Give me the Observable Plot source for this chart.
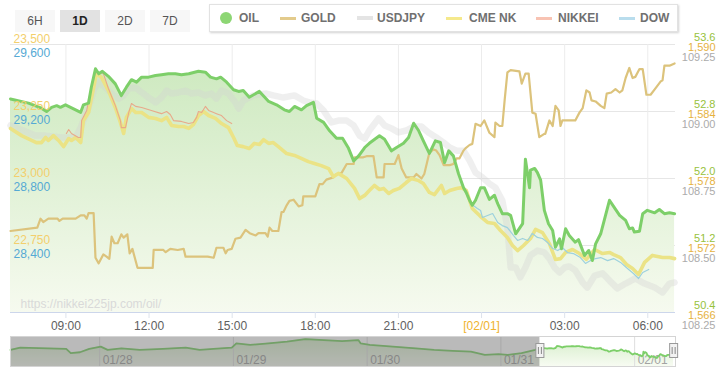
<!DOCTYPE html>
<html><head><meta charset="utf-8">
<script src="https://cdn.jsdelivr.net/npm/d3@7"></script>
<script src="https://cdn.jsdelivr.net/npm/@observablehq/plot@0.6"></script>
<style>
body{margin:0;background:#fff;font-family:"Liberation Sans",Arial,sans-serif;}
#wrap{position:relative;width:726px;height:380px;overflow:hidden;background:#fff}
.btn{position:absolute;top:10px;width:40px;height:22px;line-height:22px;text-align:center;font-size:12px;color:#555;background:#f7f7f7}
.btn.on{background:#e2e2e2;color:#222;font-weight:bold}
#legend{position:absolute;left:209px;top:4px;width:467px;height:26px;border:1px solid #e2e2e2;background:#fff;box-shadow:1px 1px 2px rgba(0,0,0,0.18)}
.li{position:absolute;top:0;height:26px;line-height:26px;font-size:12px;font-weight:bold;color:#707070;white-space:nowrap}
.mk{position:absolute}
</style></head>
<body>
<div id="wrap">
  <div id="chart" style="position:absolute;left:0;top:0"></div>
  <div id="nav" style="position:absolute;left:0;top:334px"></div>
  <div id="header"></div>
</div>
<script>
// ---------- data ----------
const rangeButtons = ["6H", "1D", "2D", "7D"];
const activeRange = "1D";
const seriesNames = ["OIL", "GOLD", "USDJPY", "CME NK", "NIKKEI", "DOW"];
const watermark = "https://nikkei225jp.com/oil/";

// axis tick labels (value at each horizontal gridline, bottom to top)
const oilTicks = [50.4, 51.2, 52.0, 52.8, 53.6];
const goldTicks = [1566, 1572, 1578, 1584, 1590];
const jpyTicks = [108.25, 108.50, 108.75, 109.00, 109.25];
const nkTicks = [22500, 22750, 23000, 23250, 23500];
const dowTicks = [28000, 28400, 28800, 29200, 29600];
const timeTicks = ["09:00", "12:00", "15:00", "18:00", "21:00", "00:00", "03:00", "06:00"];
const dateTickLabel = "[02/01]";

// 1D series: [time (Jan 31 07:00 -> Feb 1 07:00), value]
const oil = [["07:00",52.95],["07:39",52.90],["08:07",52.84],["08:18",52.80],["08:29",52.85],["08:40",52.87],["08:48",52.85],["08:59",52.88],["09:10",52.85],["09:32",52.79],["09:38",52.88],["09:49",52.90],["09:55",53.09],["10:04",53.31],["10:11",53.25],["10:19",53.28],["10:32",53.22],["10:47",53.13],["11:00",52.99],["11:11",53.09],["11:22",53.18],["11:33",53.15],["11:44",53.21],["11:59",53.21],["12:14",53.23],["12:27",53.24],["12:42",53.25],["12:57",53.25],["13:10",53.24],["13:26",53.25],["13:47",53.28],["14:02",53.27],["14:13",53.21],["14:26",53.19],["14:35",53.21],["14:48",53.15],["15:03",53.06],["15:14",53.04],["15:24",53.05],["15:37",52.97],["15:59",53.04],["16:19",52.92],["16:36",52.88],["16:53",52.82],["17:04",52.80],["17:15",52.86],["17:30",52.82],["17:41",52.87],["17:56",52.91],["18:03",52.72],["18:18",52.67],["18:31",52.57],["18:46",52.48],["18:59",52.48],["19:12",52.36],["19:23",52.21],["19:34",52.27],["19:47",52.37],["19:57",52.42],["20:19",52.51],["20:30",52.47],["20:45",52.33],["20:56",52.37],["21:11",52.42],["21:22",52.49],["21:33",52.66],["21:44",52.57],["21:54",52.45],["22:07",52.30],["22:20",52.45],["22:31",52.43],["22:40",52.19],["22:49",52.33],["22:59",52.27],["23:10",52.06],["23:21",51.89],["23:27",51.83],["23:34",51.74],["23:40",51.68],["23:47",51.74],["23:58",51.89],["00:06",51.89],["00:17",51.75],["00:28",51.80],["00:35",51.70],["00:45",51.58],["00:56",51.58],["01:03",51.56],["01:14",51.34],["01:29",51.46],["01:35",52.23],["01:44",51.89],["01:46",52.10],["01:55",52.12],["02:01",52.07],["02:08",51.98],["02:16",51.62],["02:25",51.46],["02:34",51.38],["02:40",51.18],["02:49",51.28],["02:53",51.16],["03:02",51.40],["03:10",51.32],["03:23",51.24],["03:30",51.27],["03:43",51.08],["03:52",51.14],["04:00",51.02],["04:07",51.22],["04:18",51.34],["04:37",51.74],["04:48",51.65],["04:59",51.56],["05:12",51.50],["05:20",51.40],["05:27",51.41],["05:31",51.36],["05:42",51.37],["05:49",51.58],["05:59",51.62],["06:15",51.59],["06:25",51.63],["06:36",51.58],["06:47",51.59],["06:58",51.58]];

const gold = [["07:00",1573.3],["07:58",1573.6],["08:05",1574.4],["08:11",1574.1],["08:22",1574.4],["08:42",1574.4],["08:46",1574.2],["08:53",1574.4],["09:21",1574.4],["09:32",1574.7],["09:40",1574.7],["09:45",1574.4],["09:49",1574.9],["10:00",1574.9],["10:04",1570.9],["10:11",1570.4],["10:21",1571.2],["10:28",1571.0],["10:34",1570.8],["10:39",1572.8],["10:45",1572.2],["10:52",1572.2],["11:00",1573.0],["11:05",1572.7],["11:13",1573.0],["11:18",1571.3],["11:24",1571.7],["11:35",1570.0],["12:08",1570.0],["12:10",1571.6],["12:31",1571.6],["12:36",1571.4],["12:46",1571.7],["13:02",1571.6],["13:15",1571.7],["13:19",1571.0],["14:07",1571.0],["14:20",1570.9],["14:26",1571.8],["14:41",1571.8],["14:46",1571.3],["14:50",1571.6],["14:59",1571.7],["15:07",1572.6],["15:18",1572.7],["15:29",1573.4],["15:38",1573.1],["15:51",1572.9],["15:57",1573.1],["16:12",1573.1],["16:17",1572.8],["16:21",1573.6],["16:27",1573.3],["16:40",1573.3],["16:47",1575.0],["16:51",1575.0],["16:58",1575.6],["17:04",1576.0],["17:13",1576.1],["17:24",1575.5],["17:32",1575.6],["17:34",1576.4],["18:00",1576.4],["18:09",1577.5],["18:16",1577.5],["18:24",1577.9],["18:39",1578.1],["18:46",1578.4],["18:57",1578.5],["19:08",1579.3],["19:23",1579.3],["19:25",1579.9],["19:44",1579.9],["19:51",1580.0],["20:06",1580.0],["20:13",1578.1],["20:28",1578.1],["20:30",1579.3],["20:52",1579.3],["21:00",1580.1],["21:07",1578.9],["21:17",1578.1],["21:33",1578.1],["21:39",1578.4],["21:50",1578.0],["21:56",1578.4],["22:07",1580.3],["22:16",1580.6],["22:22",1580.5],["22:29",1580.1],["22:38",1579.2],["22:51",1579.2],["22:59",1579.3],["23:06",1579.8],["23:12",1579.8],["23:21",1580.5],["23:25",1580.7],["23:34",1581.0],["23:40",1581.1],["23:47",1582.9],["23:58",1582.7],["00:06",1583.2],["00:17",1582.1],["00:28",1581.7],["00:30",1583.0],["00:39",1582.7],["00:45",1582.7],["00:50",1585.0],["00:56",1587.5],["01:03",1587.7],["01:22",1587.6],["01:27",1586.5],["01:35",1587.4],["01:42",1587.4],["01:50",1583.9],["01:57",1583.8],["02:05",1581.7],["02:16",1582.0],["02:18",1582.0],["02:27",1583.2],["02:34",1582.7],["02:40",1584.5],["02:47",1584.1],["02:51",1582.7],["02:55",1583.2],["03:23",1583.2],["03:32",1583.9],["03:39",1584.3],["03:47",1585.9],["03:54",1585.7],["03:58",1585.0],["04:07",1584.9],["04:18",1584.5],["04:26",1584.3],["04:31",1585.6],["04:41",1585.7],["04:50",1586.0],["04:59",1585.7],["05:05",1585.9],["05:12",1587.0],["05:20",1587.9],["05:27",1587.0],["05:33",1587.1],["05:42",1587.8],["05:49",1587.8],["05:57",1585.5],["06:06",1585.5],["06:17",1586.1],["06:28",1586.7],["06:32",1586.8],["06:36",1588.1],["06:47",1588.1],["06:58",1588.3]];

const usdjpy = [["07:00",108.948],["07:54",108.910],["08:16",108.910],["08:50",108.903],["09:21",108.903],["09:32",108.940],["09:49",109.015],["10:02",109.089],["10:11",109.108],["10:26",109.089],["10:39",109.067],["10:54",109.048],["11:05",109.060],["11:16",109.086],["11:31",109.089],["11:44",109.071],["11:59",109.052],["12:14",109.034],["12:27",109.052],["12:38",109.078],["12:49",109.067],["13:04",109.071],["13:19",109.078],["13:32",109.067],["13:47",109.071],["14:02",109.060],["14:15",109.067],["14:26",109.048],["14:37",109.078],["14:52",109.067],["15:07",109.034],["15:14",109.011],["15:24",109.041],["15:46",109.060],["16:14",109.067],["16:29",109.060],["16:51",109.052],["17:15",109.060],["17:34",109.041],["17:47",109.034],["18:03",109.030],["18:18",109.004],["18:35",108.959],["18:50",108.966],["19:08",108.966],["19:23",108.948],["19:36",108.910],["19:47",108.899],["19:57",108.929],["20:17",108.974],["20:30",108.948],["20:45",108.937],["21:00",108.922],["21:17",108.929],["21:33",108.944],["21:50",108.944],["22:05",108.922],["22:22",108.903],["22:38",108.884],["22:51",108.866],["23:06",108.854],["23:21",108.854],["23:34",108.817],["23:47",108.772],["00:02",108.754],["00:17",108.731],["00:30",108.716],["00:45",108.668],["00:56",108.567],["01:03",108.418],["01:14",108.418],["01:24",108.381],["01:35",108.418],["01:46",108.463],["02:01",108.481],["02:16",108.474],["02:27",108.451],["02:38",108.418],["02:49",108.399],["03:00",108.418],["03:10",108.422],["03:23",108.407],["03:39",108.362],["03:49",108.343],["04:05",108.388],["04:22",108.396],["04:37",108.369],["04:54",108.340],["05:12",108.358],["05:33",108.377],["05:53",108.358],["06:15",108.343],["06:32",108.325],["06:47",108.358],["06:58",108.362]];

const cmeNk = [["07:00",23187],["07:24",23160],["07:56",23134],["08:07",23134],["08:16",23153],["08:22",23142],["08:33",23160],["08:44",23142],["08:55",23119],["09:06",23149],["09:12",23142],["09:21",23153],["09:32",23134],["09:38",23216],["09:49",23246],["10:00",23339],["10:06",23392],["10:17",23377],["10:32",23328],["10:47",23265],["10:58",23209],["11:05",23168],["11:11",23228],["11:22",23261],["11:31",23246],["11:44",23246],["11:59",23228],["12:14",23224],["12:27",23216],["12:38",23228],["12:49",23198],["13:04",23194],["13:15",23194],["13:26",23187],["13:36",23201],["13:47",23235],["13:58",23250],["14:09",23235],["14:24",23224],["14:37",23205],["14:52",23190],["15:03",23153],["15:11",23123],["15:24",23119],["15:37",23112],["15:48",23131],["15:59",23127],["16:08",23145],["16:19",23131],["16:29",23134],["16:40",23119],["16:58",23093],["17:15",23086],["17:26",23078],["17:45",23063],["17:58",23056],["18:13",23048],["18:29",23037],["18:39",23007],["18:50",23019],["19:08",23000],["19:25",22963],["19:36",22925],["19:47",22937],["19:57",22955],["20:08",22974],["20:19",22959],["20:28",22963],["20:39",22944],["20:49",22955],["21:02",22963],["21:17",22985],["21:28",23000],["21:44",22992],["21:54",22981],["22:07",22948],["22:18",22940],["22:33",22974],["22:40",22944],["22:51",22955],["23:06",22963],["23:17",22966],["23:27",22955],["23:40",22888],["23:58",22858],["00:13",22836],["00:28",22832],["00:41",22806],["00:56",22780],["01:07",22750],["01:18",22731],["01:31",22750],["01:46",22776],["01:57",22810],["02:12",22798],["02:27",22757],["02:40",22698],["02:51",22701],["03:02",22724],["03:17",22735],["03:32",22720],["03:47",22698],["04:05",22735],["04:22",22720],["04:37",22724],["04:46",22716],["05:01",22705],["05:14",22679],["05:27",22664],["05:40",22642],["05:53",22687],["06:10",22713],["06:32",22705],["06:47",22705],["06:58",22701]];

const nikkei = [["09:01",23168],["09:06",23183],["09:12",23168],["09:27",23153],["09:32",23153],["09:34",23216],["09:45",23254],["09:55",23339],["10:04",23395],["10:15",23395],["10:21",23392],["10:32",23336],["10:47",23272],["10:58",23216],["11:00",23190],["11:09",23190],["11:16",23246],["11:22",23280],["11:31",23269],["11:44",23265],["12:05",23254],["12:27",23242],["12:38",23250],["12:46",23239],["12:53",23216],["13:10",23213],["13:26",23205],["13:36",23209],["13:43",23228],["13:47",23250],["13:54",23246],["14:02",23269],["14:09",23254],["14:20",23246],["14:26",23242],["14:37",23235],["14:48",23216],["14:59",23205]];

const dow = [["23:36",28651],["23:51",28621],["23:58",28609],["00:02",28567],["00:13",28579],["00:24",28591],["00:35",28537],["00:45",28519],["00:56",28507],["01:09",28460],["01:18",28430],["01:29",28442],["01:40",28430],["01:50",28472],["02:01",28448],["02:12",28442],["02:23",28418],["02:34",28382],["02:45",28370],["02:55",28388],["03:06",28358],["03:19",28352],["03:34",28328],["03:45",28293],["03:56",28310],["04:07",28322],["04:18",28328],["04:33",28310],["04:46",28322],["05:01",28299],["05:16",28263],["05:29",28233],["05:40",28203],["05:49",28239],["06:02",28257]];

// navigator: OIL over the preceding days ("MM-DD HH:MM", value), followed by the 1D series
const oilHistory = [["01-27 08:00",52.55],["01-27 09:45",52.99],["01-27 14:43",52.86],["01-27 18:00",52.74],["01-27 18:49",51.93],["01-27 20:28",52.11],["01-27 22:08",52.74],["01-28 00:12",53.18],["01-28 01:26",52.55],["01-28 03:55",52.86],["01-28 07:12",52.55],["01-28 11:20",52.74],["01-28 15:27",52.99],["01-28 17:57",52.55],["01-28 20:25",52.74],["01-28 23:43",52.99],["01-29 00:32",53.80],["01-29 03:00",53.49],["01-29 06:19",53.80],["01-29 09:37",54.11],["01-29 12:55",54.61],["01-29 16:13",54.43],["01-29 19:31",54.24],["01-29 22:25",54.43],["01-29 22:49",53.80],["01-30 00:29",53.49],["01-30 04:36",53.18],["01-30 08:43",52.86],["01-30 12:01",52.55],["01-30 15:20",52.36],["01-30 18:37",52.24],["01-30 21:07",51.61],["01-30 23:36",51.74],["01-31 01:13",51.61],["01-31 03:42",51.93],["01-31 06:11",52.55]];
const navDays = ["01-28","01-29","01-30","01-31","02-01"];

// ---------- helpers ----------
const mainDay = s => { const [h, m] = s.split(":").map(Number); return new Date(Date.UTC(2020, 0, h >= 7 ? 31 : 32, h, m)); };
const md = s => { const [d, t] = s.split(" "); const [mo, da] = d.split("-").map(Number); const [h, m] = (t || "00:00").split(":").map(Number); return new Date(Date.UTC(2020, mo - 1, da, h, m)); };
const unit = ticks => v => (v - ticks[0]) / (ticks[1] - ticks[0]);
const rows = (arr, ticks) => { const f = unit(ticks); return arr.map(([s, v]) => ({t: mainDay(s), u: f(v)})); };

const xStart = new Date(Date.UTC(2020, 0, 31, 7, 0));
const xEnd = new Date(Date.UTC(2020, 1, 1, 7, 0));
const tickDates = timeTicks.map(mainDay);
const midnight = tickDates.filter(d => d.getUTCHours() === 0);
const hourTicks = tickDates.filter(d => d.getUTCHours() !== 0);

const oilRows = rows(oil, oilTicks), goldRows = rows(gold, goldTicks), jpyRows = rows(usdjpy, jpyTicks);
const nkRows = rows(cmeNk, nkTicks), nikRows = rows(nikkei, nkTicks), dowRows = rows(dow, dowTicks);

const fmt1 = d3.format(".1f"), fmt2 = d3.format(".2f"), fmtC = d3.format(",");
const FONT = "'Liberation Sans', Arial, sans-serif";

const C = {oil: "#7dcf69", gold: "#dcc37c", jpy: "#d2d2d2", nk: "#ebe386", nikkei: "#e8a98a", dow: "#9dd1dd"};

// ---------- main chart ----------
const main = Plot.plot({
  width: 726, height: 340,
  marginTop: 44, marginBottom: 28, marginLeft: 10, marginRight: 51,
  x: {type: "utc", domain: [xStart, xEnd], axis: null},
  y: {domain: [0, 4], axis: null},
  style: {fontFamily: FONT, fontSize: "12px", background: "transparent", overflow: "visible"},
  marks: [
    Plot.gridY([1, 2, 3, 4], {stroke: "#e6e6e6", strokeOpacity: 1}),
    Plot.gridX(tickDates, {stroke: "#ececec", strokeOpacity: 1}),
    Plot.areaY(oilRows, {x: "t", y1: 0, y2: "u", fill: "url(#oilGrad)"}),
    Plot.text([watermark], {frameAnchor: "bottom-left", text: d => d, dx: 10, dy: -5, textAnchor: "start", lineAnchor: "bottom", fill: "#d9d9d9", fontSize: 12}),
    Plot.line(jpyRows, {x: "t", y: "u", stroke: C.jpy, strokeWidth: 6.5, strokeOpacity: 0.36, strokeLinejoin: "round"}),
    Plot.line(goldRows, {x: "t", y: "u", stroke: C.gold, strokeWidth: 2.2, strokeLinejoin: "round"}),
    Plot.line(nkRows, {x: "t", y: "u", stroke: C.nk, strokeWidth: 3.6, strokeLinejoin: "round"}),
    Plot.line(nikRows, {x: "t", y: "u", stroke: C.nikkei, strokeWidth: 1.1}),
    Plot.line(dowRows, {x: "t", y: "u", stroke: C.dow, strokeWidth: 1.2}),
    Plot.line(oilRows, {x: "t", y: "u", stroke: C.oil, strokeWidth: 3, strokeLinejoin: "round"}),
    Plot.ruleY([0], {stroke: "#ccd6eb"}),
    // right axes
    Plot.axisY([0, 1, 2, 3, 4], {anchor: "right", tickSize: 0, tickPadding: 0, label: null, tickFormat: u => fmt1(oilTicks[u]), fill: "#97c23c", textAnchor: "end", dx: 40, dy: -7, fontSize: 11}),
    Plot.axisY([0, 1, 2, 3, 4], {anchor: "right", tickSize: 0, tickPadding: 0, label: null, tickFormat: u => fmtC(goldTicks[u]), fill: "#e6b23e", textAnchor: "end", dx: 40, dy: 3, fontSize: 11}),
    Plot.axisY([0, 1, 2, 3, 4], {anchor: "right", tickSize: 0, tickPadding: 0, label: null, tickFormat: u => fmt2(jpyTicks[u]), fill: "#ababab", textAnchor: "end", dx: 40, dy: 13, fontSize: 11}),
    // left axes
    Plot.axisY([1, 2, 3, 4], {anchor: "left", tickSize: 0, tickPadding: 0, label: null, tickFormat: u => fmtC(nkTicks[u]), fill: "#f3cf6d", textAnchor: "start", dx: 3, dy: -5, fontSize: 12}),
    Plot.axisY([1, 2, 3, 4], {anchor: "left", tickSize: 0, tickPadding: 0, label: null, tickFormat: u => fmtC(dowTicks[u]), fill: "#55a9d4", textAnchor: "start", dx: 3, dy: 9, fontSize: 12}),
    // x axis
    Plot.axisX(hourTicks, {tickSize: 6, label: null, tickFormat: d3.utcFormat("%H:%M"), stroke: "#dde3ec", fill: "#606060", fontSize: 12}),
    Plot.axisX(midnight, {tickSize: 6, label: null, tickFormat: () => dateTickLabel, stroke: "#dde3ec", fill: "#efb32e", fontSize: 12})
  ]
});
(function addGrad(svg, id, c0, c1, y1, y2) {
  const g = d3.select(svg).insert("defs", ":first-child").append("linearGradient")
    .attr("id", id).attr("gradientUnits", "userSpaceOnUse").attr("x1", 0).attr("x2", 0).attr("y1", y1).attr("y2", y2);
  g.append("stop").attr("offset", 0).attr("stop-color", c0);
  g.append("stop").attr("offset", 1).attr("stop-color", c1);
})(main, "oilGrad", "#cde9bf", "#f6faef", 60, 312);
document.getElementById("chart").appendChild(main);

// ---------- navigator ----------
const navRows = oilHistory.map(([s, v]) => ({t: md(s), v})).concat(oil.map(([s, v]) => ({t: mainDay(s), v})));
const navStart = new Date(Date.UTC(2020, 0, 27, 8, 0));
const navEnd = new Date(Date.UTC(2020, 1, 1, 7, 20));
const dayDates = navDays.map(md);
const navY = [49.4, 55.1];
const nav = Plot.plot({
  width: 726, height: 34, marginTop: 2, marginBottom: 2, marginLeft: 10, marginRight: 51,
  x: {type: "utc", domain: [navStart, navEnd], axis: null},
  y: {domain: navY, axis: null},
  style: {fontFamily: FONT, fontSize: "12px", background: "transparent", overflow: "visible"},
  marks: [
    Plot.areaY(navRows, {x: "t", y1: navY[0], y2: "v", fill: "url(#navGrad)"}),
    Plot.ruleX(dayDates, {stroke: "#dedede"}),
    Plot.text(dayDates, {x: d => d, text: d3.utcFormat("%m/%d"), frameAnchor: "bottom", lineAnchor: "bottom", dy: -3, dx: 3, textAnchor: "start", fill: "#a3a3a3", fontSize: 12}),
    Plot.line(navRows, {x: "t", y: "v", stroke: C.oil, strokeWidth: 1.8}),
    Plot.rect([{a: navStart, b: xStart}], {x1: "a", x2: "b", fill: "#666", fillOpacity: 0.45}),
    Plot.frame({stroke: "#d4d4d4"}),
    Plot.ruleX([xStart, xEnd], {stroke: "#999", strokeWidth: 9, insetTop: 7, insetBottom: 8}),
    Plot.ruleX([xStart, xEnd], {stroke: "#f2f2f2", strokeWidth: 7, insetTop: 8, insetBottom: 9}),
    Plot.ruleX([xStart, xEnd], {stroke: "#888", strokeWidth: 1, dx: -1.5, insetTop: 11, insetBottom: 12}),
    Plot.ruleX([xStart, xEnd], {stroke: "#888", strokeWidth: 1, dx: 1.5, insetTop: 11, insetBottom: 12})
  ]
});
(function(svg) {
  const g = d3.select(svg).insert("defs", ":first-child").append("linearGradient")
    .attr("id", "navGrad").attr("gradientUnits", "userSpaceOnUse").attr("x1", 0).attr("x2", 0).attr("y1", 2).attr("y2", 32);
  g.append("stop").attr("offset", 0).attr("stop-color", "#d3ecc6");
  g.append("stop").attr("offset", 1).attr("stop-color", "#f7fbf2");
})(nav);
document.getElementById("nav").appendChild(nav);

// ---------- header: range buttons + legend ----------
const header = document.getElementById("header");
const btnLeft = [15, 60, 105, 150];
rangeButtons.forEach((b, i) => {
  const d = document.createElement("div");
  d.className = "btn" + (b === activeRange ? " on" : "");
  d.style.left = btnLeft[i] + "px";
  d.textContent = b;
  header.appendChild(d);
});
const legend = document.createElement("div");
legend.id = "legend";
header.appendChild(legend);
const legendColors = ["#8dd674", "#e3cb8c", "#e4e4e4", "#f5e98c", "#f8c3b3", "#b9dded"];
const markerX = [10, 70, 147, 236, 326, 409];
const textX = [29, 91, 167, 259, 348, 430];
seriesNames.forEach((name, i) => {
  const m = document.createElement("div");
  m.className = "mk";
  if (i === 0) {
    Object.assign(m.style, {left: markerX[i] + "px", top: "7px", width: "12px", height: "12px", borderRadius: "6px", background: legendColors[i]});
  } else {
    const h = i === 2 ? 4 : 3;
    Object.assign(m.style, {left: markerX[i] + "px", top: (13 - h / 2) + "px", width: "16px", height: h + "px", background: legendColors[i]});
  }
  legend.appendChild(m);
  const t = document.createElement("div");
  t.className = "li";
  t.style.left = textX[i] + "px";
  t.textContent = name;
  legend.appendChild(t);
});
</script>
</body></html>
